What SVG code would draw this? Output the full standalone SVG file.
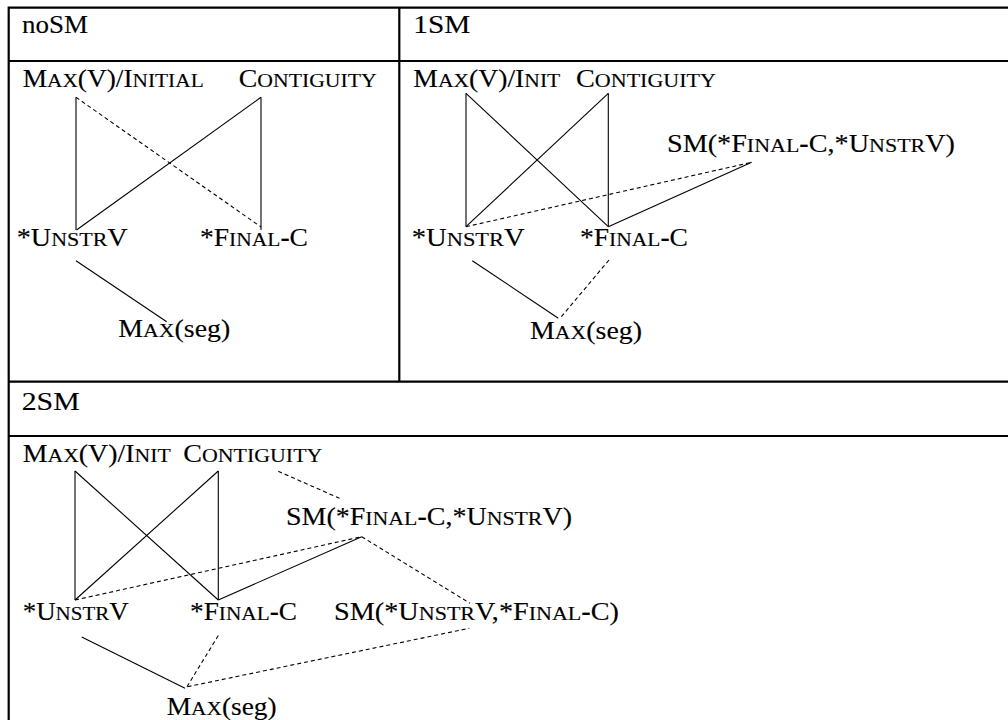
<svg xmlns="http://www.w3.org/2000/svg" width="1008" height="720" viewBox="0 0 1008 720">
<style>
.t text{font-family:'Liberation Serif','Times New Roman',Times,serif;font-size:25px;fill:#000;stroke:#000;stroke-width:0.12}
.t .sc{font-size:19.5px}
.t .b{font-weight:bold}
.grid{stroke:#000;stroke-width:2.2;fill:none}
.s{stroke:#000;stroke-width:1.1;fill:none}
.d{stroke:#000;stroke-width:1.1;fill:none;stroke-dasharray:4,3}
</style>
<rect width="1008" height="720" fill="#fff"/>
<g id="table">
<path class="grid" d="M7.6 7.7H1008M8.7 6.6V720M7.6 61H1008M399.3 7.7V381.7M7.6 381.7H1008M7.6 436H1008"/>
</g>
<g id="connectors">
<line class="s" x1="76" y1="97.3" x2="76" y2="230"/>
<line class="d" x1="76" y1="97.3" x2="261" y2="227"/>
<line class="s" x1="261" y1="97.3" x2="76.5" y2="230"/>
<line class="s" x1="261" y1="97.3" x2="261" y2="230"/>
<line class="s" x1="76" y1="260.7" x2="166.7" y2="321.7"/>
<line class="s" x1="466" y1="93.3" x2="466" y2="226.7"/>
<line class="s" x1="466" y1="93.3" x2="608.3" y2="226.7"/>
<line class="s" x1="608.3" y1="93.3" x2="466" y2="226.7"/>
<line class="s" x1="608.3" y1="93.3" x2="608.3" y2="226.7"/>
<line class="d" x1="466" y1="226.7" x2="751.7" y2="162.3"/>
<line class="s" x1="608.3" y1="226.7" x2="751.7" y2="162.3"/>
<line class="s" x1="472.3" y1="260.7" x2="558.3" y2="318.3"/>
<line class="d" x1="609" y1="260" x2="560" y2="318.3"/>
<line class="s" x1="75" y1="471" x2="75" y2="600"/>
<line class="s" x1="75" y1="471" x2="218.3" y2="600"/>
<line class="s" x1="218.3" y1="471" x2="75" y2="600"/>
<line class="s" x1="218.3" y1="471" x2="218.3" y2="600"/>
<line class="d" x1="75" y1="600" x2="361.7" y2="536.7"/>
<line class="s" x1="218.3" y1="600" x2="361.7" y2="536.7"/>
<line class="d" x1="278.3" y1="471.3" x2="339.5" y2="498.3"/>
<line class="d" x1="361.7" y1="536.7" x2="470" y2="603.3"/>
<line class="s" x1="81.7" y1="637" x2="185" y2="688.3"/>
<line class="d" x1="218.3" y1="635.5" x2="187" y2="686.7"/>
<line class="d" x1="187.5" y1="686.7" x2="469.3" y2="628.3"/>
</g>
<g class="t" font-family="Liberation Serif, serif">
<g id="headers">
<text x="22" y="33" textLength="66" lengthAdjust="spacingAndGlyphs">noSM</text>
<text x="413.3" y="33" textLength="57" lengthAdjust="spacingAndGlyphs">1SM</text>
<text x="21.7" y="410" textLength="58" lengthAdjust="spacingAndGlyphs">2SM</text>
</g>
<g id="n1-max-v-initial"><text x="22.7" y="87" textLength="181" lengthAdjust="spacingAndGlyphs">M<tspan class="sc">AX</tspan>(V)/I<tspan class="sc">NITIAL</tspan></text></g>
<g id="n1-contiguity"><text x="238.7" y="87" textLength="138" lengthAdjust="spacingAndGlyphs">C<tspan class="sc">ONTIGUITY</tspan></text></g>
<g id="n1-unstrv"><text x="16.7" y="246" textLength="111" lengthAdjust="spacingAndGlyphs">*U<tspan class="sc">NSTR</tspan>V</text></g>
<g id="n1-final-c"><text x="200" y="246" textLength="108" lengthAdjust="spacingAndGlyphs">*F<tspan class="sc">INAL</tspan><tspan class="b">-</tspan>C</text></g>
<g id="n1-max-seg"><text x="118.3" y="337" textLength="112" lengthAdjust="spacingAndGlyphs">M<tspan class="sc">AX</tspan>(seg)</text></g>
<g id="n2-max-v-init"><text x="413.3" y="87" textLength="147" lengthAdjust="spacingAndGlyphs">M<tspan class="sc">AX</tspan>(V)/I<tspan class="sc">NIT</tspan></text></g>
<g id="n2-contiguity"><text x="576" y="87" textLength="140" lengthAdjust="spacingAndGlyphs">C<tspan class="sc">ONTIGUITY</tspan></text></g>
<g id="n2-sm"><text x="667" y="152" textLength="288" lengthAdjust="spacingAndGlyphs">SM(*F<tspan class="sc">INAL</tspan><tspan class="b">-</tspan>C,*U<tspan class="sc">NSTR</tspan>V)</text></g>
<g id="n2-unstrv"><text x="411.7" y="246" textLength="113" lengthAdjust="spacingAndGlyphs">*U<tspan class="sc">NSTR</tspan>V</text></g>
<g id="n2-final-c"><text x="580" y="246" textLength="108" lengthAdjust="spacingAndGlyphs">*F<tspan class="sc">INAL</tspan><tspan class="b">-</tspan>C</text></g>
<g id="n2-max-seg"><text x="530" y="339" textLength="112" lengthAdjust="spacingAndGlyphs">M<tspan class="sc">AX</tspan>(seg)</text></g>
<g id="n3-max-v-init"><text x="22.7" y="462" textLength="148" lengthAdjust="spacingAndGlyphs">M<tspan class="sc">AX</tspan>(V)/I<tspan class="sc">NIT</tspan></text></g>
<g id="n3-contiguity"><text x="183.3" y="462" textLength="139" lengthAdjust="spacingAndGlyphs">C<tspan class="sc">ONTIGUITY</tspan></text></g>
<g id="n3-sm1"><text x="286" y="525" textLength="286" lengthAdjust="spacingAndGlyphs">SM(*F<tspan class="sc">INAL</tspan><tspan class="b">-</tspan>C,*U<tspan class="sc">NSTR</tspan>V)</text></g>
<g id="n3-unstrv"><text x="22.7" y="620" textLength="106" lengthAdjust="spacingAndGlyphs">*U<tspan class="sc">NSTR</tspan>V</text></g>
<g id="n3-final-c"><text x="190" y="620" textLength="107" lengthAdjust="spacingAndGlyphs">*F<tspan class="sc">INAL</tspan><tspan class="b">-</tspan>C</text></g>
<g id="n3-sm2"><text x="334" y="620" textLength="285" lengthAdjust="spacingAndGlyphs">SM(*U<tspan class="sc">NSTR</tspan>V,*F<tspan class="sc">INAL</tspan><tspan class="b">-</tspan>C)</text></g>
<g id="n3-max-seg"><text x="166.7" y="715" textLength="110" lengthAdjust="spacingAndGlyphs">M<tspan class="sc">AX</tspan>(seg)</text></g>
</g>
</svg>
